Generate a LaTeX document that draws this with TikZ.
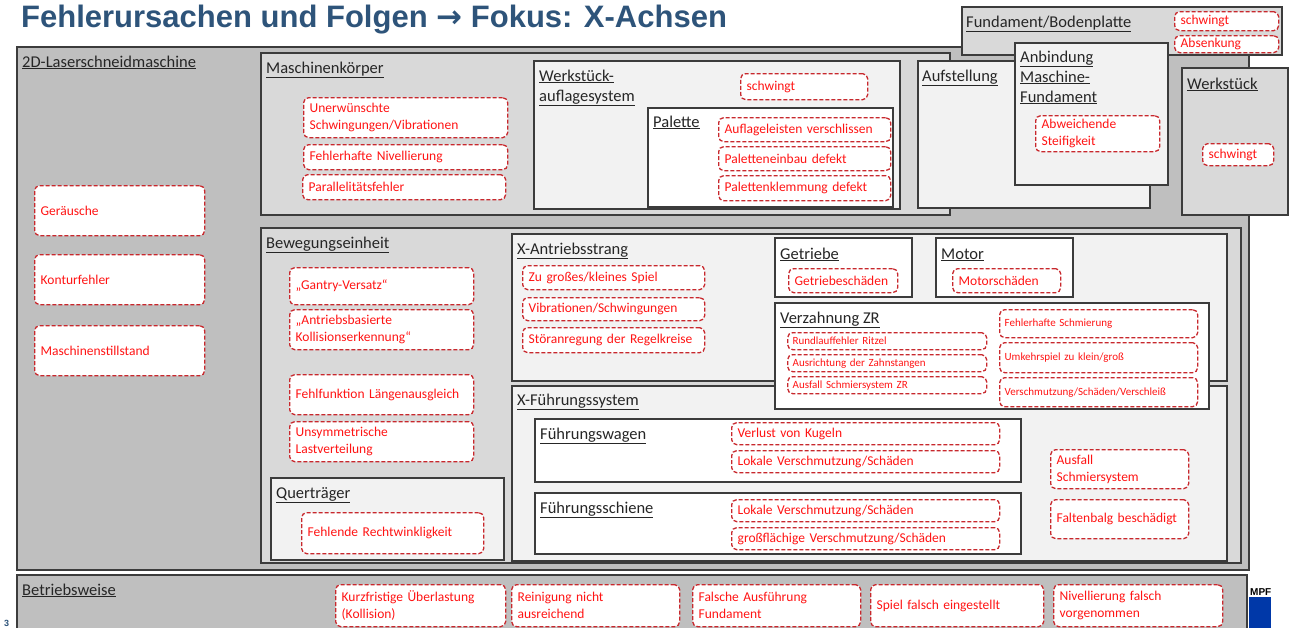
\documentclass[tikz,border=0pt]{standalone}
\usepackage{fontspec}
\setmainfont{Carlito}
\newfontfamily\titlefont{Liberation Sans}
\newfontfamily\arrowfont{DejaVu Sans}
\usepackage{xcolor}
\definecolor{titleblue}{RGB}{46,84,122}
\definecolor{graydark}{RGB}{191,191,191}
\definecolor{graymid}{RGB}{217,217,217}
\definecolor{graylight}{RGB}{242,242,242}
\definecolor{boxline}{RGB}{60,60,60}
\definecolor{faultline}{RGB}{200,40,45}
\definecolor{faulttext}{RGB}{255,20,20}
\definecolor{logoblue}{RGB}{0,56,168}

\begin{document}
\begin{tikzpicture}[
        x=1pt, y=-1pt,
        darkbox/.style={draw=boxline, fill=graydark, line width=1.2pt},
        midbox/.style={draw=boxline, fill=graymid, line width=1.2pt},
        lightbox/.style={draw=boxline, fill=graylight, line width=1.2pt},
        whitebox/.style={draw=boxline, fill=white, line width=1.2pt},
        boxlabel/.style={anchor=base west, inner sep=0pt, align=left, text=black!85, font=\fontsize{16.5}{20}\selectfont},
        fault/.style 2 args={anchor=north west, draw=faultline, fill=white, line width=1.3pt, dash pattern=on 4pt off 2pt,
            rounded corners=5pt, text=faulttext, align=left, inner xsep=6pt, inner ysep=0pt,
            text width=#1, minimum height=#2, font=\fontsize{13.5}{17}\selectfont},
        smallfault/.style 2 args={fault={#1}{#2}, inner xsep=5pt, font=\fontsize{11}{13}\selectfont}
        ]
        \useasboundingbox (0,0) rectangle (1290,627);

        %% Title
        \node[anchor=base west, inner sep=0pt, text=titleblue, font=\titlefont\bfseries\fontsize{31}{32}\selectfont] (title) at (21,27) {Fehlerursachen und Folgen {\arrowfont\bfseries →} Fokus: X-Achsen};

        %% Machine
        \filldraw[darkbox] (17,47) rectangle (1249,570);
        \node[boxlabel] (lbl-laser) at (22,67) {\underline{2D-Laserschneidmaschine}};

        \node[fault={158pt}{50pt}] (f-geraeusche) at (34,185) {Geräusche};
        \node[fault={158pt}{50pt}] (f-kontur) at (34,254) {Konturfehler};
        \node[fault={158pt}{50pt}] (f-stillstand) at (34,325) {Maschinenstillstand};

        %% Maschinenkoerper
        \filldraw[midbox] (261,53) rectangle (950,215);
        \node[boxlabel] (lbl-koerper) at (266,73) {\underline{Maschinenkörper}};
        \node[fault={192pt}{40pt}] (f-schwingungen) at (303,97) {Unerwünschte\\Schwingungen/Vibrationen};
        \node[fault={192pt}{25pt}] (f-nivellierung) at (303,144) {Fehlerhafte Nivellierung};
        \node[fault={191pt}{25pt}] (f-parallel) at (302,174) {Parallelitätsfehler};

        \filldraw[lightbox] (534,61) rectangle (900,209);
        \node[boxlabel] (lbl-auflage) at (539,101) {\underline{Werkstück-}\\\underline{auflagesystem}};
        \node[fault={115pt}{26pt}] (f-auflage-schwingt) at (740,73) {schwingt};

        \filldraw[whitebox] (648,108) rectangle (893,207);
        \node[boxlabel] (lbl-palette) at (653,127) {\underline{Palette}};
        \node[fault={160pt}{24pt}] (f-leisten) at (718,117) {Auflageleisten verschlissen};
        \node[fault={160pt}{24pt}] (f-einbau) at (718,146) {Paletteneinbau defekt};
        \node[fault={160pt}{25pt}] (f-klemmung) at (718,175) {Palettenklemmung defekt};

        %% Aufstellung, Fundament
        \filldraw[lightbox] (918,61) rectangle (1150,208);
        \node[boxlabel] (lbl-aufstellung) at (922,81) {\underline{Aufstellung}};

        \filldraw[midbox] (962,7) rectangle (1282,55);
        \node[boxlabel] (lbl-fundament) at (966,27) {\underline{Fundament/Bodenplatte}};
        \node[fault={92pt}{19pt}] (f-fund-schwingt) at (1174,11) {schwingt};
        \node[fault={92pt}{17pt}] (f-absenkung) at (1174,35) {Absenkung};

        \filldraw[lightbox] (1015,43) rectangle (1168,185);
        \node[boxlabel] (lbl-anbindung) at (1020,102) {\underline{Anbindung}\\\underline{Maschine-}\\\underline{Fundament}};
        \node[fault={112pt}{36pt}] (f-steifigkeit) at (1035,115) {Abweichende\\Steifigkeit};

        \filldraw[midbox] (1182,68) rectangle (1288,215);
        \node[boxlabel] (lbl-werkstueck) at (1187,89) {\underline{Werkstück}};
        \node[fault={59pt}{22pt}] (f-wst-schwingt) at (1202,143) {schwingt};

        %% Bewegungseinheit
        \filldraw[midbox] (261,228) rectangle (1241,563);
        \node[boxlabel] (lbl-bewegung) at (266,248) {\underline{Bewegungseinheit}};
        \node[fault={172pt}{37pt}] (f-gantry) at (289,267) {„Gantry-Versatz“};
        \node[fault={172pt}{40pt}] (f-kollision) at (289,309) {„Antriebsbasierte\\Kollisionserkennung“};
        \node[fault={172pt}{40pt}] (f-laengen) at (289,374) {Fehlfunktion Längenausgleich};
        \node[fault={172pt}{40pt}] (f-last) at (289,421) {Unsymmetrische\\Lastverteilung};

        \filldraw[lightbox] (271,478) rectangle (504,560);
        \node[boxlabel] (lbl-quertraeger) at (276,498) {\underline{Querträger}};
        \node[fault={170pt}{41pt}] (f-rechtwinkl) at (301,512) {Fehlende Rechtwinkligkeit};

        %% X-Antriebsstrang
        \filldraw[lightbox] (512,234) rectangle (1227,381);
        \node[boxlabel] (lbl-antrieb) at (517,254) {\underline{X-Antriebsstrang}};
        \node[fault={170pt}{24pt}] (f-spiel) at (522,265) {Zu großes/kleines Spiel};
        \node[fault={170pt}{23pt}] (f-vibration) at (522,297) {Vibrationen/Schwingungen};
        \node[fault={170pt}{25pt}] (f-regel) at (522,327) {Störanregung der Regelkreise};

        \filldraw[whitebox] (775,238) rectangle (912,297);
        \node[boxlabel] (lbl-getriebe) at (780,259) {\underline{Getriebe}};
        \node[fault={97pt}{24pt}] (f-getriebe) at (788,268) {Getriebeschäden};

        \filldraw[whitebox] (936,238) rectangle (1073,297);
        \node[boxlabel] (lbl-motor) at (941,259) {\underline{Motor}};
        \node[fault={96pt}{24pt}] (f-motor) at (952,268) {Motorschäden};

        %% X-Fuehrungssystem
        \filldraw[lightbox] (512,386) rectangle (1227,561);
        \node[boxlabel] (lbl-fuehrung) at (517,405) {\underline{X-Führungssystem}};

        \filldraw[whitebox] (535,419) rectangle (1021,482);
        \node[boxlabel] (lbl-wagen) at (540,439) {\underline{Führungswagen}};
        \node[fault={256pt}{22pt}] (f-kugeln) at (731,422) {Verlust von Kugeln};
        \node[fault={256pt}{22pt}] (f-wagen-lokal) at (731,450) {Lokale Verschmutzung/Schäden};

        \filldraw[whitebox] (535,493) rectangle (1021,554);
        \node[boxlabel] (lbl-schiene) at (540,513) {\underline{Führungsschiene}};
        \node[fault={256pt}{22pt}] (f-schiene-lokal) at (731,499) {Lokale Verschmutzung/Schäden};
        \node[fault={256pt}{22pt}] (f-schiene-gross) at (731,527) {großflächige Verschmutzung/Schäden};

        \node[fault={126pt}{39pt}] (f-schmier) at (1050,449) {Ausfall\\Schmiersystem};
        \node[fault={126pt}{39pt}] (f-balg) at (1050,499) {Faltenbalg beschädigt};

        %% Verzahnung ZR
        \filldraw[whitebox] (775,303) rectangle (1209,409);
        \node[boxlabel] (lbl-verzahnung) at (780,323) {\underline{Verzahnung ZR}};
        \node[smallfault={189pt}{17pt}] (f-ritzel) at (787,332) {Rundlauffehler Ritzel};
        \node[smallfault={189pt}{17pt}] (f-zahnstangen) at (787,354) {Ausrichtung der Zahnstangen};
        \node[smallfault={189pt}{17pt}] (f-zr-schmier) at (787,376) {Ausfall Schmiersystem ZR};
        \node[smallfault={188pt}{28pt}] (f-schmierung) at (999,309) {Fehlerhafte Schmierung};
        \node[smallfault={188pt}{30pt}] (f-umkehr) at (999,342) {Umkehrspiel zu klein/groß};
        \node[smallfault={188pt}{29pt}] (f-verschleiss) at (999,377) {Verschmutzung/Schäden/Verschleiß};

        %% Betriebsweise
        \node[anchor=south west, inner sep=0pt, font=\titlefont\bfseries\fontsize{10}{11}\selectfont] (logo-text) at (1250,596) {MPF};
        \fill[logoblue] (1249,597) rectangle (1271,640);
        \filldraw[darkbox] (17,575) rectangle (1247,640);
        \node[boxlabel] (lbl-betrieb) at (22,595) {\underline{Betriebsweise}};
        \node[fault={158pt}{42pt}] (f-ueberlast) at (335,584) {Kurzfristige Überlastung\\(Kollision)};
        \node[fault={156pt}{42pt}] (f-reinigung) at (511,584) {Reinigung nicht\\ausreichend};
        \node[fault={156pt}{42pt}] (f-ausfuehrung) at (692,584) {Falsche Ausführung\\Fundament};
        \node[fault={161pt}{42pt}] (f-spiel-falsch) at (870,584) {Spiel falsch eingestellt};
        \node[fault={157pt}{42pt}] (f-niv-falsch) at (1053,584) {Nivellierung falsch\\vorgenommen};

        \node[anchor=base west, inner sep=0pt, text=titleblue, font=\titlefont\bfseries\fontsize{9}{10}\selectfont] (page) at (4,626) {3};
\end{tikzpicture}
\end{document}
